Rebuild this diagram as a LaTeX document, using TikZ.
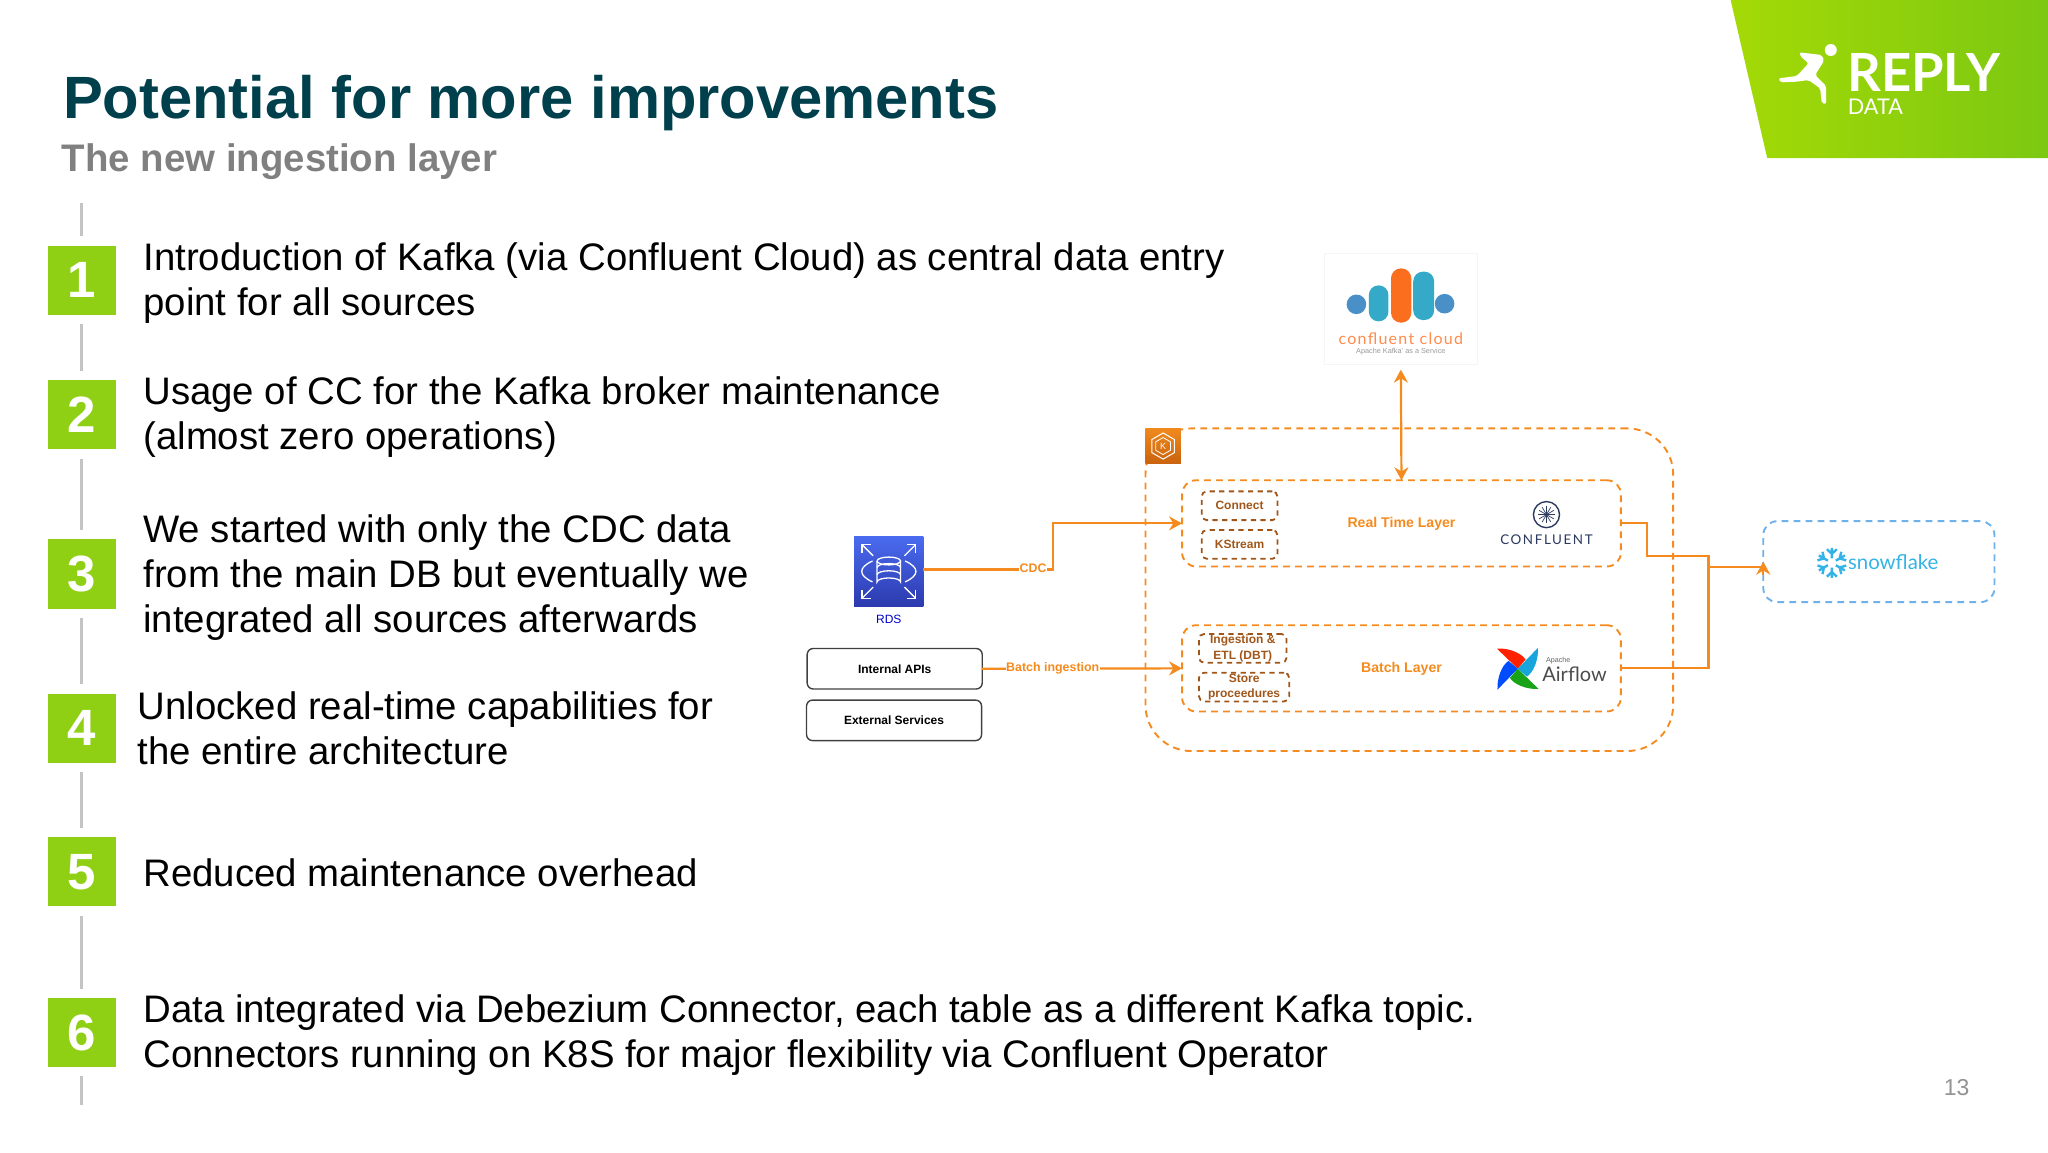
\documentclass[tikz,border=0pt]{standalone}
\usepackage{fontspec}
\setmainfont{Liberation Sans}
\newfontfamily\logofont{Lato}
\usepackage{tikz}
\usetikzlibrary{arrows,arrows.meta,shadings}
\newcommand{\px}{0.653061pt}
\definecolor{titleteal}{HTML}{003F4C}
\definecolor{subgrey}{HTML}{808080}
\definecolor{stepgreen}{HTML}{8FD014}
\definecolor{linegrey}{HTML}{C4C4C4}
\definecolor{awsorange}{HTML}{F58B1F}
\definecolor{boxbrown}{HTML}{A0561A}
\definecolor{sfblue}{HTML}{6FB1EA}
\definecolor{sfflake}{HTML}{34B3E6}
\definecolor{confnavy}{HTML}{2C3A5E}
\definecolor{cloudblue}{HTML}{4A90C8}
\definecolor{cloudteal}{HTML}{35AAC8}
\definecolor{cloudorange}{HTML}{FA6E1E}
\tikzstyle{stepbox} = [fill=stepgreen,text=white,font=\fontsize{25.5}{28}\selectfont\bfseries,minimum width=52*\px,minimum height=53*\px,inner sep=0pt,outer sep=0pt]
\tikzstyle{steptext} = [anchor=west,align=left,inner sep=0pt,font=\fontsize{19.18}{22.6}\selectfont]
\tikzstyle{stepline} = [draw=linegrey,line width=1.8pt,shorten >=4.6pt,shorten <=4.6pt]
\tikzstyle{layerdash} = [draw=awsorange,line width=0.95pt,dash pattern=on 3.4pt off 2.6pt]
\tikzstyle{layerbox} = [layerdash,rounded corners=7pt,minimum width=336*\px,minimum height=66*\px,inner sep=0pt,outer sep=0pt,text=awsorange,font=\fontsize{7.05}{8}\selectfont\bfseries]
\tikzstyle{toolbox} = [draw=boxbrown,line width=0.9pt,dash pattern=on 2.6pt off 2.2pt,rounded corners=2.5pt,inner sep=0pt,outer sep=0pt,text=boxbrown,align=center,font=\fontsize{6}{7.6}\selectfont\bfseries]
\tikzstyle{sourcebox} = [draw=black!75,line width=0.7pt,rounded corners=3pt,minimum width=134*\px,minimum height=31*\px,inner sep=0pt,outer sep=0pt,font=\fontsize{6}{7}\selectfont\bfseries]
\tikzstyle{flowline} = [draw=awsorange,line width=1.1pt]
\tikzstyle{arrow} = [flowline,-{Stealth[length=6.5pt,width=7pt]}]
\tikzstyle{flowlabel} = [fill=white,inner sep=0.3pt,text=awsorange,font=\fontsize{6.2}{7}\selectfont\bfseries]
\begin{document}
\begin{tikzpicture}[x=0.653061pt,y=-0.653061pt]

\useasboundingbox (0,0) rectangle (1568,882);


%%% %%%
% Header
%%% %%%


\definecolor{cornerleft}{HTML}{A4DA06}
\definecolor{cornerright}{HTML}{7CC812}
\shade[left color=cornerleft,right color=cornerright] (1325,0) -- (1568,0) -- (1568,121) -- (1353,121) -- cycle;

\begin{scope}[shift={(1225.1,0)},scale=0.2552]
\fill[white] (692,150) circle (18);
\fill[white,rounded corners=1pt] (535,235) -- (590,228) -- (625,190) -- (600,168) -- (598,157) -- (665,165) -- (672,182) -- (645,225) -- (678,258) -- (678,312) -- (665,310) -- (660,265) -- (625,240) -- (590,245) -- (540,247) -- cycle;
\end{scope}

\node[anchor=base west,inner sep=0pt,text=white,font=\fontsize{26.3}{28}\selectfont\logofont\bfseries] (LOGOTXT) at (1414,70) {REPLY};
\node[anchor=base west,inner sep=0pt,text=white,font=\fontsize{10.8}{12}\selectfont\logofont] (LOGOSUB) at (1414.5,87.5) {DATA};

\node[anchor=base west,inner sep=0pt,text=titleteal,font=\fontsize{29.85}{34}\selectfont\bfseries] (TITLE) at (48,91) {Potential for more improvements};
\node[anchor=base west,inner sep=0pt,text=subgrey,font=\fontsize{19.2}{22}\selectfont\bfseries] (SUBTITLE) at (47,131) {The new ingestion layer};

\node[inner sep=0pt,text=subgrey!85,font=\fontsize{11.5}{13}\selectfont] (PAGENO) at (1498,833) {13};


%%% %%%
% Steps
%%% %%%


\coordinate (STEPTOP) at (62.5,148);
\coordinate (STEPEND) at (62.5,853);

\foreach \y/\i [count=\n] in
{214.5/1,317.5/2,439.5/3,557.5/4,667.5/5,790.5/6}
\node[stepbox] (STEP\n) at (62.5,\y) {\i};

\draw [stepline] (STEPTOP) to (STEP1.north);
\draw [stepline] (STEP1.south) to (STEP2.north);
\draw [stepline] (STEP2.south) to (STEP3.north);
\draw [stepline] (STEP3.south) to (STEP4.north);
\draw [stepline] (STEP4.south) to (STEP5.north);
\draw [stepline] (STEP5.south) to (STEP6.north);
\draw [stepline] (STEP6.south) to (STEPEND);

\node[steptext] (TXT1) at (109.5,216.5) {Introduction of Kafka (via Confluent Cloud) as central data entry\\point for all sources};
\node[steptext] (TXT2) at (109.5,319.5) {Usage of CC for the Kafka broker maintenance\\(almost zero operations)};
\node[steptext] (TXT3) at (109.5,442) {We started with only the CDC data\\from the main DB but eventually we\\integrated all sources afterwards};
\node[steptext] (TXT4) at (105,557.5) {Unlocked real-time capabilities for\\the entire architecture};
\node[steptext] (TXT5) at (109.5,668) {Reduced maintenance overhead};
\node[steptext] (TXT6) at (109.5,792.5) {Data integrated via Debezium Connector, each table as a different Kafka topic.\\Connectors running on K8S for major flexibility via Confluent Operator};


%%% %%%
% Cloud
%%% %%%


\node[draw=black!4,fill=white,minimum width=117*\px,minimum height=85*\px,inner sep=0pt,outer sep=0pt] (CLOUD) at (1072.5,236.5) {};

\fill[cloudblue] (1038.5,233) circle (7.5);
\fill[cloudblue] (1106,232.5) circle (7.5);
\fill[cloudteal,rounded corners=4.8pt] (1048,218.5) rectangle (1063,246);
\fill[cloudteal,rounded corners=4.8pt] (1082,208) rectangle (1098,245);
\fill[cloudorange,rounded corners=4.9pt] (1065,205.5) rectangle (1080.5,247);

\node[inner sep=0pt,text=orange!70!red!70,font=\fontsize{8}{9}\selectfont\logofont\addfontfeature{LetterSpace=8}] (CLOUDTXT) at (1072.5,259) {confluent cloud};
\node[inner sep=0pt,text=black!40,font=\fontsize{3.65}{4}\selectfont] (CLOUDSUB) at (1072.5,269) {Apache Kafka' as a Service};


%%% %%%
% Layers
%%% %%%


\node[layerdash,rounded corners=23pt,minimum width=404*\px,minimum height=247*\px,inner sep=0pt,outer sep=0pt] (KUBE) at (1079,451.5) {};

\definecolor{kubetop}{HTML}{F08A1E}
\definecolor{kubebot}{HTML}{C9630E}
\node[top color=kubetop,bottom color=kubebot,minimum width=27*\px,minimum height=27*\px,inner sep=0pt,outer sep=0pt] (KUBEICON) at (890.5,341.5) {};
\begin{scope}[shift={(KUBEICON.center)}]
\draw[white,line width=0.5pt] (90:10) -- (30:10) -- (-30:10) -- (-90:10) -- (-150:10) -- (150:10) -- cycle;
\draw[white,line width=0.4pt] (90:6.5) -- (30:6.5) -- (-30:6.5) -- (-90:6.5) -- (-150:6.5) -- (150:6.5) -- cycle;
\node[inner sep=0pt,text=white,font=\fontsize{4.5}{5}\selectfont] (KUBEK) at (0,0) {K};
\end{scope}

\node[layerbox] (REAL) at (1073,400.7) {Real Time Layer};
\node[layerbox] (BATCH) at (1073,511.7) {Batch Layer};

\node[toolbox,minimum width=58*\px,minimum height=22*\px] (CONNECT) at (949,387.2) {Connect};
\node[toolbox,minimum width=58*\px,minimum height=22*\px] (KSTREAM) at (949,416.8) {KStream};
\node[toolbox,minimum width=67*\px,minimum height=22*\px] (INGEST) at (951.5,496.4) {Ingestion \&\\ETL (DBT)};
\node[toolbox,minimum width=69*\px,minimum height=22*\px] (STORE) at (952.5,526) {Store\\proceedures};

% Confluent mark
\node[draw=confnavy,circle,line width=0.7pt,minimum size=20*\px,inner sep=0pt,outer sep=0pt] (CONFMARK) at (1184,394) {};
\foreach \a in {0,30,...,330}
\draw[confnavy,line width=0.35pt] (CONFMARK.center) -- ++(\a:6.5);
\node[inner sep=0pt,text=confnavy,font=\fontsize{6.7}{8}\selectfont\logofont\addfontfeature{LetterSpace=12}] (CONFTXT) at (1184,413) {CONFLUENT};

% Airflow mark
\foreach \c/\a in {red!75!orange/0,blue!70!cyan/90,green!60!black!90/180,cyan!80!teal/270}
\fill[\c,shift={(1162,512)},rotate=\a] (0,0) -- (-16,-15.5) .. controls (-7,-16) and (3,-12) .. (6,-7) -- cycle;
\node[inner sep=0pt,text=black!60,font=\fontsize{3.6}{4}\selectfont] (AIRAPACHE) at (1193,505.5) {Apache};
\node[inner sep=0pt,text=black!70,font=\fontsize{10}{11}\selectfont\logofont] (AIRTXT) at (1205.5,516) {Airflow};


%%% %%%
% Sources
%%% %%%


\definecolor{rdstop}{HTML}{4A6BEF}
\definecolor{rdsbot}{HTML}{2C3AAE}
\node[top color=rdstop,bottom color=rdsbot,minimum width=53*\px,minimum height=53*\px,inner sep=0pt,outer sep=0pt] (RDS) at (680.5,437.5) {};
\begin{scope}[shift={(RDS.center)},white,line width=0.65pt]
\foreach \sx/\sy in {-1/-1,1/-1,1/1,-1/1}
\draw[-{Straight Barb[length=3pt,width=6pt]}] (\sx*12,\sy*12) -- (\sx*21,\sy*21);
\draw (-9,-8) arc[start angle=180,end angle=-180,x radius=9,y radius=3];
\draw (-9,-8) -- (-9,8) arc[start angle=180,end angle=360,x radius=9,y radius=3] -- (9,-8);
\draw (-9,-3) arc[start angle=180,end angle=360,x radius=9,y radius=3];
\draw (-9,2.5) arc[start angle=180,end angle=360,x radius=9,y radius=3];
\draw (-12.5,-8) .. controls (-23.5,-3) and (-23.5,3) .. (-12.5,8);
\draw (12.5,-8) .. controls (23.5,-3) and (23.5,3) .. (12.5,8);
\end{scope}
\node[inner sep=0pt,text=blue!80!black,font=\fontsize{6}{7}\selectfont] (RDSTXT) at (680.5,474) {RDS};

\node[sourcebox] (INTAPI) at (685,512) {Internal APIs};
\node[sourcebox] (EXTSRV) at (684.5,551.5) {External Services};


%%% %%%
% Snowflake
%%% %%%


\node[draw=sfblue,line width=0.95pt,dash pattern=on 3.4pt off 2.6pt,rounded corners=7pt,minimum width=177*\px,minimum height=62*\px,inner sep=0pt,outer sep=0pt] (SNOW) at (1438.5,430) {};
\foreach \a in {30,90,...,330}
\draw[sfflake,line width=1.2pt,shift={(1402.5,431)},rotate=\a] (3.5,0) -- (11.5,0) (10.5,-3.8) -- (7,0) -- (10.5,3.8);
\node[inner sep=0pt,text=sfflake,font=\fontsize{10.2}{12}\selectfont\logofont] (SNOWTXT) at (1449.5,430) {snowflake};


%%%
% Arrows: Ingestion
%%%


\coordinate (CDCBEND) at (806,400.7);
\draw [arrow] ([yshift=1pt]RDS.east) -| (CDCBEND) -- (REAL.west);
\draw [arrow] (INTAPI.east) to (BATCH.west);

\node[flowlabel] (CDCTXT) at (791,435) {CDC};
\node[flowlabel] (BATCHTXT) at (806,511.5) {Batch ingestion};


%%%
% Arrows: Cloud
%%%


\coordinate (CLOUDIN) at (1072.5,283);
\draw [arrow,{Stealth[length=6.5pt,width=7pt]}-{Stealth[length=6.5pt,width=7pt]}] (CLOUDIN) to (REAL.north);


%%%
% Arrows: Snowflake
%%%


\coordinate (REALBEND) at (1261,425.4);
\coordinate (JOIN) at (1308,434);
\coordinate (SNOWIN) at (1350,434);
\coordinate (SNOWTIP) at (1350,430);

\draw [flowline] (REAL.east) -| (REALBEND) -| (JOIN);
\draw [flowline] (BATCH.east) -| (JOIN);
\draw [flowline] (JOIN) to (SNOWIN);
\draw [arrow] (SNOWIN) ++(0,6) to (SNOWTIP);


\end{tikzpicture}
\end{document}
